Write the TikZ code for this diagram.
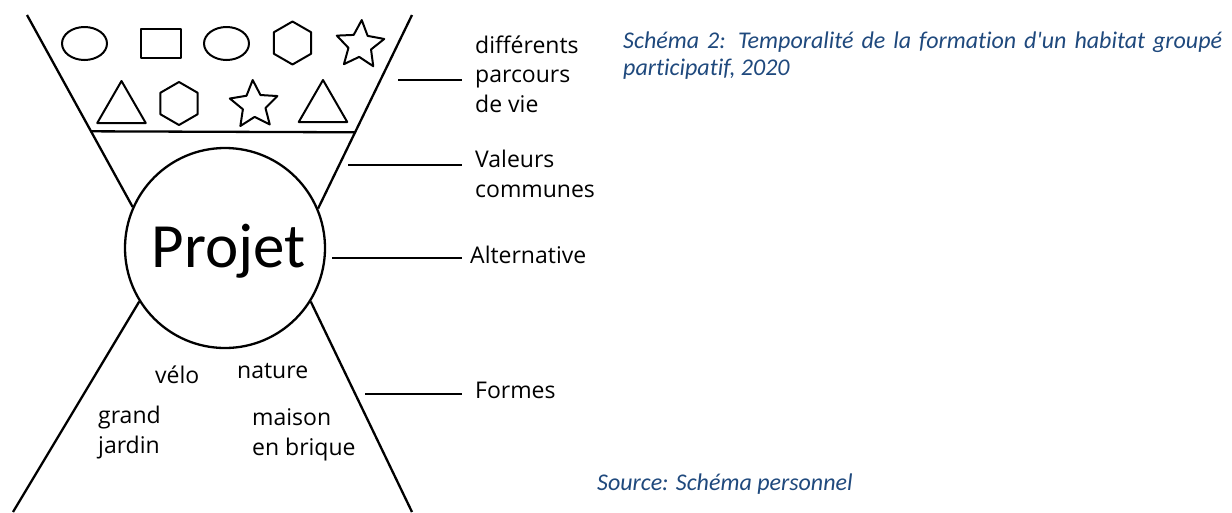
\documentclass[tikz,border=0pt]{standalone}
\usepackage{fontspec}
\setmainfont{Open Sans}
\newfontfamily\capfont[Ligatures=NoCommon]{Carlito}
\usetikzlibrary{shapes.geometric,calc}
\definecolor{capblue}{HTML}{1F497D}
\begin{document}
\begin{tikzpicture}[x=1pt,y=-1pt,line join=round,
  outline/.style={draw=black,line width=2.3pt},
  shp/.style={draw=black,line width=2pt,inner sep=0pt,outer sep=0pt},
  hexa/.style={shp,regular polygon,regular polygon sides=6,minimum size=43pt,rotate=30},
  tri/.style={shp,regular polygon,regular polygon sides=3,minimum size=56pt},
  starshp/.style={shp,star,star points=5,star point ratio=2.1,minimum size=50pt},
  ell/.style={shp,ellipse,minimum width=45pt,minimum height=33pt},
  lbl/.style={font=\fontsize{23}{29.5}\selectfont,align=left,anchor=base west,inner sep=0pt},
  leader/.style={draw=black,line width=1.6pt},
  captxt/.style={font=\capfont\itshape\fontsize{24}{27}\selectfont,text=capblue,anchor=base west,inner sep=0pt,align=left}]
\useasboundingbox (0,0) rectangle (1232,512);
% circle
\node[circle,draw=black,line width=2.3pt,minimum size=200pt,inner sep=0pt] (c) at (225,248) {};
\node[font=\capfont\fontsize{63}{63}\selectfont,anchor=base,inner sep=0pt] (projet) at (228.5,267) {Projet};
% funnel lines
\coordinate (tl) at (27,15);
\coordinate (tr) at (412,15);
\coordinate (bl) at (13,512);
\coordinate (br) at (412,512);
\draw[outline] (tl) -- (c.156.5);
\draw[outline] (tr) -- (c.23.3);
\draw[outline] (c.212.9) -- (bl);
\draw[outline] (c.-32.9) -- (br);
\coordinate (hl) at ($(tl)!0.6062!(c.156.5)$);
\coordinate (hr) at ($(tr)!0.6062!(c.23.3)$);
\draw[outline] (hl) -- (hr);
% shapes top row
\node[ell] (e1) at (84.5,43.5) {};
\node[shp,rectangle,minimum width=40pt,minimum height=29pt] (r1) at (161,43.5) {};
\node[ell] (e2) at (226.5,43.5) {};
\node[hexa] (h1) at (292.5,43) {};
\node[starshp,rotate=-4] (s1) at (360,45) {};
% shapes bottom row
\node[tri] (t1) at (121.5,109) {};
\node[hexa] (h2) at (179,103.5) {};
\node[starshp,rotate=3] (s2) at (254,105) {};
\node[tri] (t2) at (323,108) {};
% inner texts
\node[lbl] (velo) at (155,383) {vélo};
\node[lbl] (nature) at (237,378) {nature};
\node[lbl] (grand) at (98,453) {grand\\jardin};
\node[lbl] (maison) at (252,455) {maison\\en brique};
% right labels
\node[lbl] (lab1) at (475,112) {différents\\parcours\\de vie};
\node[lbl] (lab2) at (475,197) {Valeurs\\communes};
\node[lbl] (lab3) at (470,263) {Alternative};
\node[lbl] (lab4) at (475,398) {Formes};
\coordinate (l1) at (398,80);
\coordinate (l2) at (348,165);
\coordinate (l3) at (332,258);
\coordinate (l4) at (365,394);
\draw[leader] (l1) -- ($(lab1.west |- l1)+(-13,0)$);
\draw[leader] (l2) -- ($(lab2.west |- l2)+(-13,0)$);
\draw[leader] (l3) -- ($(lab3.west |- l3)+(-8,0)$);
\draw[leader] (l4) -- ($(lab4.west |- l4)+(-13,0)$);
% caption
\node[captxt] (caption) at (623,75) {\makebox[599pt][s]{Schéma 2: Temporalité de la formation d'un habitat groupé}\\participatif, 2020};
\node[captxt] (source) at (597,490) {Source: Schéma personnel};
\end{tikzpicture}
\end{document}
